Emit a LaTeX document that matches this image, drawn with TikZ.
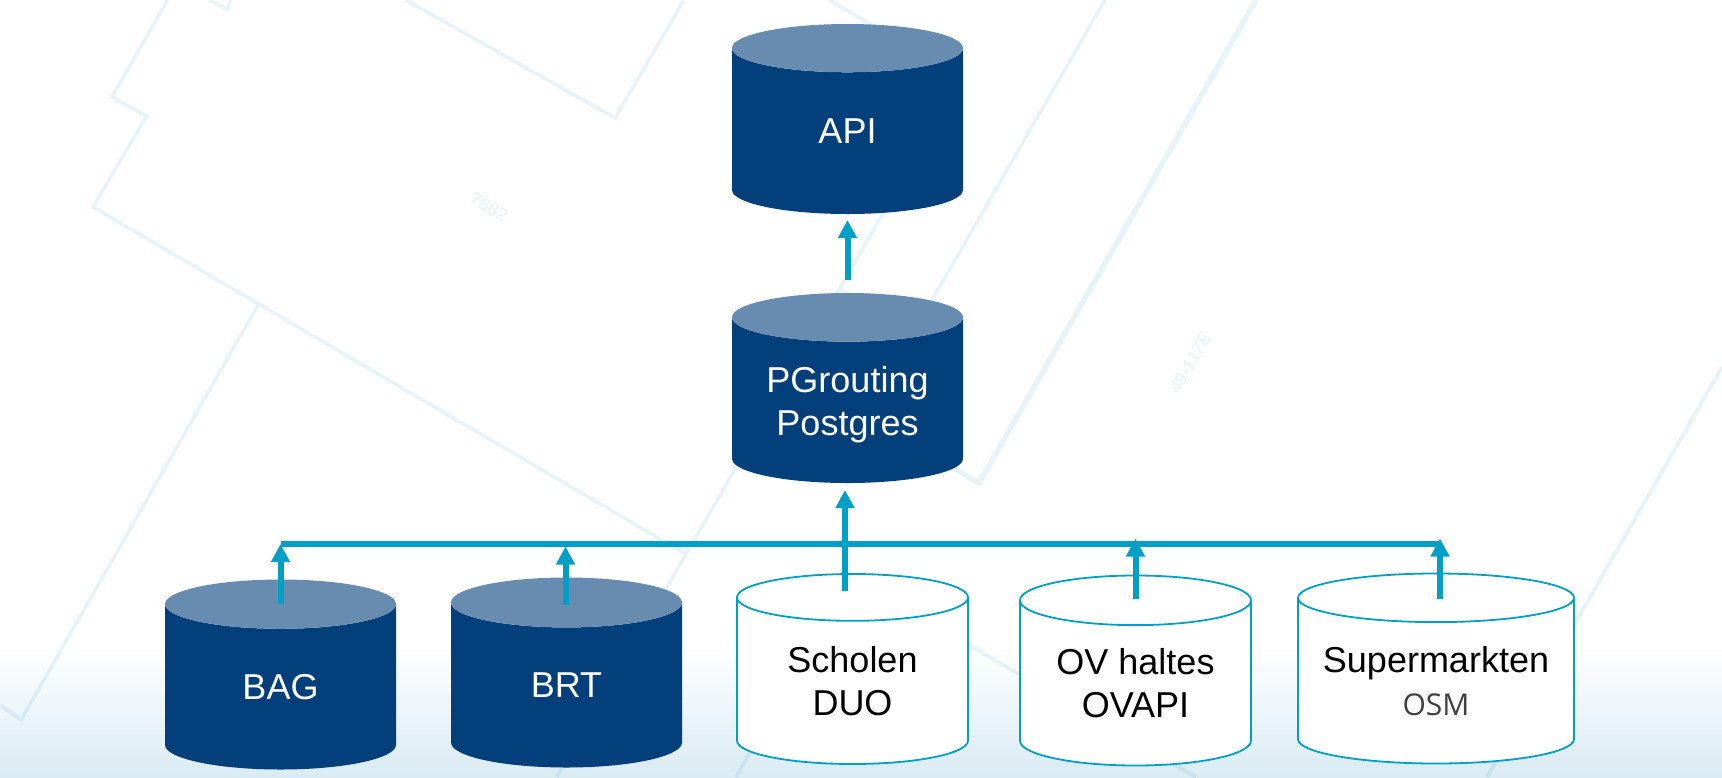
\documentclass[tikz,border=0pt]{standalone}
\usepackage{fontspec}
\setmainfont{Liberation Sans}
\newfontfamily\osmfont{Open Sans}
\usetikzlibrary{arrows.meta,shapes.geometric}
\definecolor{navy}{HTML}{023F7B}
\definecolor{navytop}{HTML}{678CB0}
\definecolor{flowblue}{HTML}{00A0C6}
\definecolor{parcel}{HTML}{E6F4FA}
\definecolor{band}{HTML}{DAEBF3}
\definecolor{osmgray}{HTML}{404040}
\tikzset{
	dbase/.style={shape=cylinder,shape border rotate=90,minimum width=231pt,minimum height=190pt,outer sep=0pt,inner sep=0pt,align=center,anchor=shape center,font=\fontsize{36}{43}\selectfont},
	dbfull/.style={dbase,cylinder uses custom fill,cylinder body fill=navy,cylinder end fill=navytop,text=white},
	dbopen/.style={dbase,draw=flowblue,line width=1.8pt,fill=white,text=black},
	flow/.style={draw=flowblue,line width=6pt,-{Triangle[length=18pt,width=18pt]}},
	parcelline/.style={draw=parcel,line width=3.5pt,line join=miter},
	parcelthick/.style={parcelline,line width=5.5pt},
	parceltext/.style={text=parcel,font=\fontsize{18}{18}\selectfont}
}
\begin{document}
\begin{tikzpicture}[x=1pt,y=-1pt]
	\useasboundingbox (0,0) rectangle (1722,777);
	% map behind the diagram
	\draw [parcelline] (167.5,0) -- (112,97) -- (146.6,116) -- (93,207) -- (684,553);
	\draw [parcelline] (209,0) -- (227,9) -- (231,0);
	\draw [parcelline] (406,0) -- (615,118) -- (684,0);
	\draw [parcelline] (258,305) -- (21,720) -- (0,705);
	\draw [parcelline] (829,0) -- (900,41);
	\draw [parcelline] (1105,0) -- (925,312);
	\draw [parcelline] (900,184) -- (557,777);
	\draw [parcelline] (840,289) -- (870,306);
	\draw [parcelline] (760,735) -- (736,777);
	\draw [parcelline] (900,605) -- (1196,777);
	\draw [parcelline,line width=4pt] (1722,367) -- (1487,777);
	\draw [parcelthick] (1256,0) -- (979,483) -- (940,460);
	\node [parceltext,rotate=-30] (lot) at (489,207) {7882};
	\node [parceltext,rotate=60] (plot) at (1190,363) {\itshape 49-117E};
	\shade [blend mode=multiply,top color=white,bottom color=band] (0,645) rectangle (1722,777);
	% cylinders
	\node [dbfull,aspect=.832] (api) at (847.5,119) {API};
	\node [dbfull,aspect=.30] (pgr) at (847.5,388) {\rule{0pt}{35pt}PGrouting\\Postgres};
	\node [dbfull,aspect=.648] (bag) at (280.5,674.5) {BAG};
	\node [dbfull,aspect=.70] (brt) at (566.5,672.5) {BRT};
	\node [dbopen,aspect=.36] (scholen) at (852.5,669) {Scholen\\DUO};
	\node [dbopen,aspect=.314] (ovapi) at (1135.5,670.5) {OV haltes\\OVAPI};
	\node [dbopen,aspect=.215,minimum width=276pt] (osm) at (1436,668.5) {Supermarkten\\{\osmfont\fontsize{30}{43}\selectfont\color{osmgray}OSM}};
	% connectors
	\coordinate (busleft) at (280.5,544);
	\coordinate (busright) at (1440,544);
	\draw [draw=flowblue,line width=6pt] (busleft) -- (busright);
	\draw [flow] ([yshift=-24pt]bag.north) -- (busleft);
	\draw [flow] ([xshift=-1pt,yshift=-27pt]brt.north) -- ([xshift=-1pt,yshift=31pt]brt.north);
	\draw [flow] ([xshift=-7.5pt,yshift=-17pt]scholen.north) -- ([xshift=-2.5pt,yshift=-7pt]pgr.south);
	\draw [flow] ([yshift=-23pt]ovapi.north) -- ([yshift=37pt]ovapi.north);
	\draw [flow] ([xshift=4pt,yshift=-25pt]osm.north) -- ([xshift=4pt,yshift=35pt]osm.north);
	\draw [flow] ([yshift=13pt]pgr.north) -- ([yshift=-6pt]api.south);
\end{tikzpicture}
\end{document}
